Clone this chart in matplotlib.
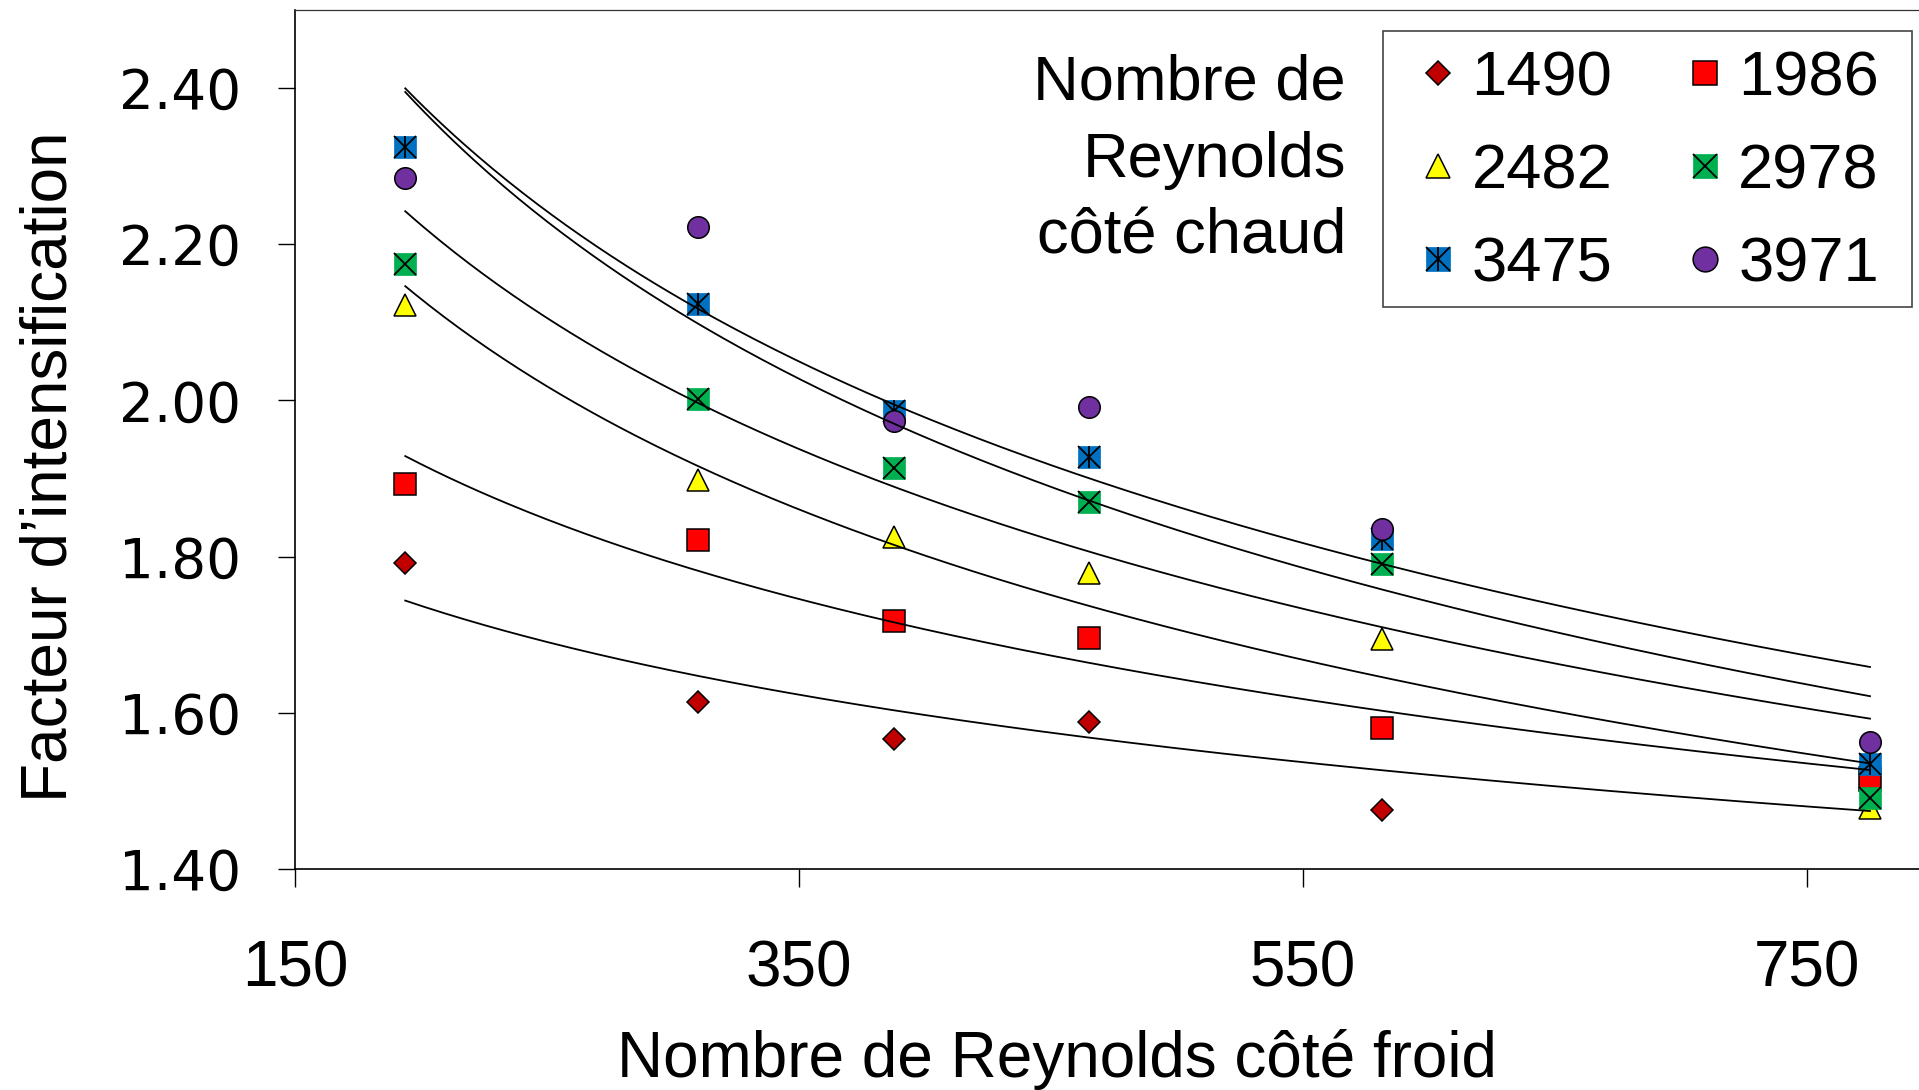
import numpy as np
import matplotlib
matplotlib.use("Agg")
import matplotlib.pyplot as plt
from matplotlib.patches import Rectangle

plt.rcParams['font.family'] = ['Liberation Sans', 'DejaVu Sans']

# Nombre de Reynolds côté froid (abscisses communes)
re_froid = [193.75, 310, 387.5, 465, 581.25, 775]

# Facteur d'intensification pour chaque Reynolds côté chaud
f_1490 = [1.792, 1.614, 1.567, 1.588, 1.476, 1.530]
f_1986 = [1.893, 1.821, 1.717, 1.696, 1.580, 1.514]
f_2482 = [2.122, 1.898, 1.825, 1.779, 1.695, 1.478]
f_2978 = [2.175, 2.002, 1.914, 1.870, 1.791, 1.491]
f_3475 = [2.324, 2.124, 1.986, 1.927, 1.822, 1.535]
f_3971 = [2.285, 2.222, 1.974, 1.992, 1.835, 1.562]

labels = ['1490', '1986', '2482', '2978', '3475', '3971']
series = [f_1490, f_1986, f_2482, f_2978, f_3475, f_3971]

x_ticks = [150, 350, 550, 750]
y_ticks = [1.40, 1.60, 1.80, 2.00, 2.20, 2.40]

W, H = 1919, 1090
fig = plt.figure(figsize=(W / 100, H / 100), dpi=100)
ax = fig.add_axes([295 / W, 1 - 869 / H, 1638 / W, 859 / H])

ms = 15.5
mew = 1.1
styles = {
    '1490': [dict(marker='D', ms=11, mfc='#C00000', mec='black', mew=mew)],
    '1986': [dict(marker='s', ms=ms, mfc='#FF0000', mec='black', mew=mew)],
    '2482': [dict(marker='^', ms=ms, mfc='#FFFF00', mec='black', mew=mew)],
    '2978': [dict(marker='s', ms=ms, mfc='#00B050', mec='#00B050', mew=0.5),
             dict(marker='x', ms=ms, mfc='none', mec='black', mew=1.3)],
    '3475': [dict(marker='s', ms=ms, mfc='#0070C0', mec='#0070C0', mew=0.5),
             dict(marker='x', ms=ms, mfc='none', mec='black', mew=1.3),
             dict(marker='|', ms=ms, mfc='none', mec='black', mew=1.3)],
    '3971': [dict(marker='o', ms=ms, mfc='#7030A0', mec='black', mew=mew)],
}

handles = {}
for i, (lab, vals) in enumerate(zip(labels, series)):
    hs = []
    for st in styles[lab]:
        h, = ax.plot(re_froid, vals, linestyle='none', zorder=3 + i * 0.1, **st)
        hs.append(h)
    handles[lab] = tuple(hs)

# courbes de tendance (loi puissance)
xx = np.linspace(min(re_froid), max(re_froid), 300)
for vals in series:
    b, ln_a = np.polyfit(np.log(re_froid), np.log(vals), 1)
    ax.plot(xx, np.exp(ln_a) * xx ** b, color='black', lw=1.3, zorder=5)

ax.set_xlim(150, 800)
ax.set_ylim(1.40, 2.50)
ax.set_xticks(x_ticks)
ax.set_yticks(y_ticks)
ax.set_xticklabels([str(v) for v in x_ticks])
ax.set_yticklabels(['%.2f' % v for v in y_ticks], fontfamily='DejaVu Sans')
ax.tick_params(axis='x', direction='out', length=13, width=1, labelsize=46, pad=38)
ax.tick_params(axis='y', direction='out', length=12, width=1, labelsize=39.5, pad=27)
for s in ['left', 'bottom']:
    ax.spines[s].set_linewidth(1.2)
ax.spines['top'].set_linewidth(0.9)
ax.spines['top'].set_color('#333333')
ax.spines['right'].set_visible(False)

fig.text(1057 / W, 1 - 1077 / H, 'Nombre de Reynolds côté froid',
         ha='center', va='baseline', fontsize=46)
fig.text(50 / W, 1 - 467 / H, 'Facteur d\u2019intensification',
         ha='center', va='center', rotation=90, fontsize=46)

for txt, yc in zip(['Nombre de', 'Reynolds', 'côté chaud'], [83, 161, 237]):
    fig.text(1346 / W, 1 - yc / H, txt, ha='right', va='center', fontsize=45.5)

# cadre de la légende
ax.add_patch(Rectangle((1383 / W, 1 - 307 / H), 529 / W, 276 / H,
                       transform=fig.transFigure, facecolor='white',
                       edgecolor='#444444', lw=1.2, zorder=9, clip_on=False))

order = ['1490', '2482', '3475', '1986', '2978', '3971']
leg = ax.legend([handles[k] for k in order], order, ncol=2,
                loc='upper left', bbox_to_anchor=(1419 / W, 1 - 49 / H),
                bbox_transform=fig.transFigure, borderaxespad=0,
                fontsize=45.5, frameon=False,
                handlelength=0.6, handletextpad=0.23, columnspacing=1.16,
                labelspacing=0.54, borderpad=0, markerscale=1.15)
leg.set_zorder(10)

fig.savefig('out.png', dpi=100)
